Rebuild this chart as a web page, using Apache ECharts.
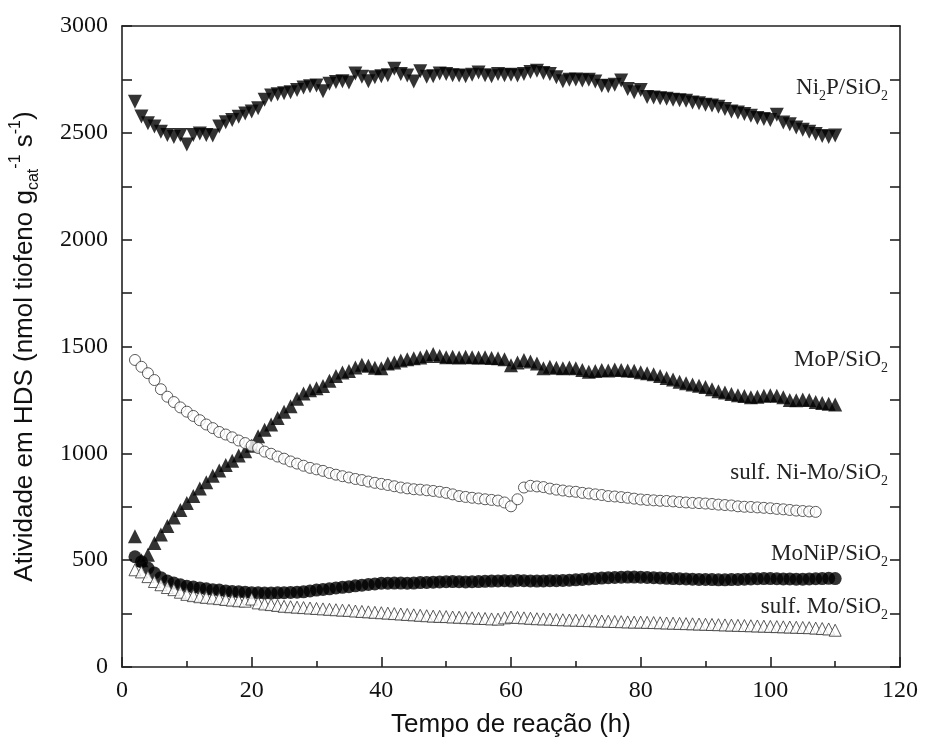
<!DOCTYPE html>
<html>
<head>
<meta charset="utf-8">
<script src="https://cdn.jsdelivr.net/npm/echarts@6/dist/echarts.min.js"></script>
<style>
html,body{margin:0;padding:0;background:#fff;}
#chart{width:925px;height:744px;}
</style>
</head>
<body>
<div id="chart"></div>
<script>
// ---- data (time in hours, activity in nmol tiofeno g_cat^-1 s^-1) ----
const xTicks = [0, 20, 40, 60, 80, 100, 120];
const yTicks = [0, 500, 1000, 1500, 2000, 2500, 3000];

const ni2pStart = 2;
const ni2pValues = [2646,2576,2545,2530,2505,2490,2480,2490,2445,2490,2497,2490,2488,2530,2550,2560,2575,2590,2600,2615,
2655,2675,2680,2685,2690,2700,2712,2718,2722,2695,2730,2738,2742,2735,2778,2762,2742,2760,2765,2770,
2800,2775,2768,2740,2788,2762,2765,2778,2775,2770,2768,2765,2772,2782,2770,2765,2775,2770,2772,2768,
2775,2785,2790,2780,2775,2760,2742,2748,2750,2745,2748,2740,2720,2718,2725,2745,2705,2690,2700,2668,
2665,2662,2660,2655,2652,2650,2642,2638,2632,2628,2622,2612,2600,2595,2588,2580,2570,2565,2560,2585,
2548,2540,2525,2515,2505,2495,2485,2480,2488];

const mopStart = 2;
const mopValues = [612,500,525,580,620,660,700,735,768,800,835,865,895,920,945,965,990,1010,1035,1080,
1110,1135,1165,1195,1220,1255,1280,1295,1305,1315,1340,1362,1378,1385,1402,1415,1410,1400,1398,1420,
1425,1435,1440,1445,1448,1455,1465,1455,1450,1452,1448,1452,1450,1448,1450,1446,1445,1440,1412,1425,
1437,1430,1420,1398,1405,1400,1398,1402,1398,1390,1382,1385,1390,1388,1392,1390,1388,1386,1380,1375,
1370,1362,1352,1345,1335,1328,1322,1316,1310,1300,1290,1285,1278,1272,1268,1262,1265,1270,1272,1270,
1262,1250,1248,1252,1250,1240,1235,1232,1228];

const nimoStart = 2;
const nimoValues = [1437,1405,1375,1343,1300,1265,1240,1215,1195,1175,1155,1135,1118,1100,1088,1075,1060,1048,1036,1025,
1008,998,985,975,962,952,942,932,925,918,908,900,893,887,880,875,868,862,857,852,
846,840,836,832,830,827,824,820,815,808,800,796,792,789,785,782,779,770,752,785,
840,848,845,842,835,830,826,822,820,815,812,808,805,800,798,795,792,788,784,782,
780,778,777,775,772,770,768,767,765,763,760,758,756,752,750,749,747,745,743,740,
738,735,732,730,728,726];

const monipStart = 2;
const monipValues = [516,493,463,440,418,402,393,385,378,374,370,366,362,360,356,353,352,350,348,347,
346,346,347,348,349,350,352,356,360,363,366,370,373,376,380,383,386,389,392,392,
393,393,392,393,395,396,397,398,399,400,399,398,399,400,401,402,403,404,402,405,
404,403,402,403,404,404,405,406,408,410,412,414,416,418,419,420,421,421,420,419,
418,417,415,414,413,412,411,410,410,409,408,408,409,410,411,412,413,414,414,413,
412,412,411,411,412,413,414,415,414];

const sulfMoStart = 2;
const sulfMoValues = [455,445,423,400,385,372,362,350,340,334,329,326,323,320,316,313,310,308,318,300,
295,292,288,284,282,280,278,276,274,272,270,268,266,265,262,260,258,256,254,252,
250,248,246,244,242,240,238,237,236,234,233,231,230,228,227,225,224,230,234,232,
230,228,226,225,224,222,221,220,219,218,217,216,215,214,213,212,211,210,210,209,
208,207,206,205,204,203,202,201,200,199,198,197,196,195,194,193,192,191,190,189,
188,187,186,185,184,182,180,178,172];

const seriesNames = ['Ni2P/SiO2', 'MoP/SiO2', 'MoNiP/SiO2', 'sulf. Ni-Mo/SiO2', 'sulf. Mo/SiO2'];

// pair hourly sampling times with the read values
function pairs(start, values) { return values.map((v, i) => [start + i, v]); }

const chart = echarts.init(document.getElementById('chart'), null, {renderer: 'canvas'});

const serifLabel = {
  fontFamily: 'Liberation Serif', fontSize: 24, color: '#111',
  formatter: function (v) { return String(v); }
};
const axisLineStyle = {color: '#222', width: 1.6};

const labelRich = {
  s: {fontFamily: 'Liberation Serif', fontSize: 14, verticalAlign: 'bottom', lineHeight: 30, fill: '#222'}
};
function seriesLabel(text, y) {
  return {
    type: 'text', x: 888, y: y, z: 10,
    style: {
      text: text, fontFamily: 'Liberation Serif', fontSize: 23, fill: '#222',
      lineHeight: 30, align: 'right', verticalAlign: 'middle', rich: labelRich
    }
  };
}

const option = {
  backgroundColor: '#fff',
  animation: false,
  grid: {left: 120, right: 25, top: 26, bottom: 77, containLabel: false},
  xAxis: [{
    type: 'value', min: xTicks[0], max: xTicks[xTicks.length - 1], interval: 20,
    position: 'bottom',
    name: 'Tempo de reação (h)', nameLocation: 'middle', nameGap: 45,
    nameTextStyle: {fontFamily: 'Liberation Sans', fontSize: 26, color: '#111'},
    axisLine: {show: true, onZero: false, lineStyle: axisLineStyle},
    axisTick: {show: true, inside: true, length: 10, lineStyle: axisLineStyle},
    minorTick: {show: true, splitNumber: 2, length: 6, lineStyle: axisLineStyle},
    axisLabel: Object.assign({margin: 12}, serifLabel),
    splitLine: {show: false}
  }, {
    type: 'value', min: xTicks[0], max: xTicks[xTicks.length - 1], interval: 20,
    position: 'top',
    axisLine: {show: true, onZero: false, lineStyle: axisLineStyle},
    axisTick: {show: false}, minorTick: {show: false}, axisLabel: {show: false}, splitLine: {show: false}
  }],
  yAxis: [{
    type: 'value', min: yTicks[0], max: yTicks[yTicks.length - 1], interval: 500,
    position: 'left',
    name: 'Atividade em HDS (nmol tiofeno g{sub|cat}{sup|-1} s{sup|-1})',
    nameLocation: 'middle', nameGap: 80, nameRotate: 90,
    nameTextStyle: {
      fontFamily: 'Liberation Sans', fontSize: 26, color: '#111', lineHeight: 34,
      rich: {
        sub: {fontFamily: 'Liberation Sans', fontSize: 16, color: '#111', verticalAlign: 'bottom', lineHeight: 34},
        sup: {fontFamily: 'Liberation Sans', fontSize: 16, color: '#111', verticalAlign: 'top', lineHeight: 30}
      }
    },
    axisLine: {show: true, onZero: false, lineStyle: axisLineStyle},
    axisTick: {show: true, inside: true, length: 10, lineStyle: axisLineStyle},
    minorTick: {show: true, splitNumber: 2, length: 10, lineStyle: axisLineStyle},
    axisLabel: Object.assign({margin: 14}, serifLabel),
    splitLine: {show: false}
  }, {
    type: 'value', min: yTicks[0], max: yTicks[yTicks.length - 1], interval: 500,
    position: 'right',
    axisLine: {show: true, onZero: false, lineStyle: axisLineStyle},
    axisTick: {show: true, inside: true, length: 10, lineStyle: axisLineStyle},
    minorTick: {show: true, splitNumber: 2, length: 10, lineStyle: axisLineStyle},
    axisLabel: {show: false}, splitLine: {show: false}
  }],
  series: [{
    name: seriesNames[0], type: 'scatter', symbol: 'triangle', symbolRotate: 180, symbolSize: 14,
    itemStyle: {color: '#000'}, data: pairs(ni2pStart, ni2pValues)
  }, {
    name: seriesNames[1], type: 'scatter', symbol: 'triangle', symbolSize: 14,
    itemStyle: {color: '#000'}, data: pairs(mopStart, mopValues)
  }, {
    name: seriesNames[2], type: 'scatter', symbol: 'circle', symbolSize: 13,
    itemStyle: {color: '#000'}, data: pairs(monipStart, monipValues)
  }, {
    name: seriesNames[3], type: 'scatter', symbol: 'circle', symbolSize: 11,
    itemStyle: {color: '#fff', borderColor: '#333', borderWidth: 1}, data: pairs(nimoStart, nimoValues)
  }, {
    name: seriesNames[4], type: 'scatter', symbol: 'triangle', symbolSize: 12,
    itemStyle: {color: '#fff', borderColor: '#333', borderWidth: 1}, data: pairs(sulfMoStart, sulfMoValues)
  }],
  graphic: [
    seriesLabel('Ni{s|2}P/SiO{s|2}', 88),
    seriesLabel('MoP/SiO{s|2}', 360),
    seriesLabel('sulf. Ni-Mo/SiO{s|2}', 473),
    seriesLabel('MoNiP/SiO{s|2}', 554),
    seriesLabel('sulf. Mo/SiO{s|2}', 607)
  ]
};
chart.setOption(option);
</script>
</body>
</html>
